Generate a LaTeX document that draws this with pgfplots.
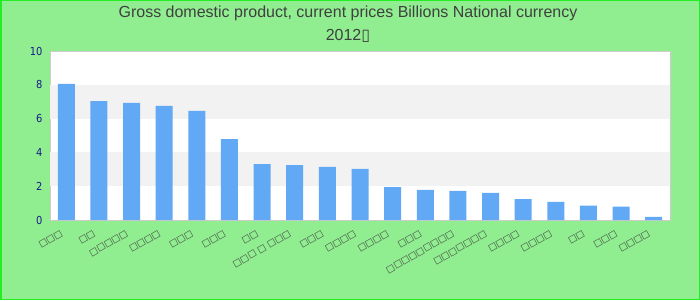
\documentclass[border=0pt]{standalone}
\usepackage{pgfplots}
\pgfplotsset{compat=1.18}
\usepackage{fontspec}
\setmainfont{Liberation Sans}
\newfontfamily\dejavu{DejaVu Sans}
\newfontfamily\dejavucond{DejaVu Sans Condensed}
\definecolor{bg}{HTML}{90EE90}
\definecolor{framec}{HTML}{22EE22}
\definecolor{barc}{HTML}{61A9F5}
\definecolor{band}{HTML}{F2F2F2}
\definecolor{ticknum}{HTML}{1A1A8C}
\definecolor{titlec}{HTML}{404040}
\definecolor{axisc}{HTML}{CCCCCC}
\begin{document}
\begin{tikzpicture}[x=1pt,y=1pt]
\fill[bg] (0,0) rectangle (700,300);
\draw[framec, line width=1.5pt] (0.75,0.75) rectangle (699.25,299.25);
\node[text=titlec, font=\fontsize{16}{18}\selectfont] at (348,287) {Gross domestic product, current prices Billions National currency};
\node[text=titlec, font=\fontsize{16}{18}\selectfont] at (348,264) {2012{\dejavu ▯}};
\begin{axis}[
  at={(50pt,80pt)}, anchor=south west,
  scale only axis, width=620pt, height=169pt,
  xmin=-0.5, xmax=18.5, ymin=0, ymax=10,
  ytick={0,2,4,6,8,10},
  xtick={0,...,18},
  xticklabels={□□□,□□,□□□□□,□□□□,□□□,□□□,□□,□□□ □ □□□,□□□,□□□□,□□□□,□□□,□□□□□□□□□,□□□□□□□,□□□□,□□□□,□□,□□□,□□□□},
  major tick length=0pt,
  axis background/.style={fill=white},
  axis line style={draw=axisc, line width=1pt},
  /pgf/number format/assume math mode=true,
  yticklabel style={font=\dejavucond\fontsize{11}{12}\selectfont, text=ticknum, xshift=-4pt},
  xticklabel style={font=\dejavu\fontsize{9}{10}\selectfont, text=titlec, xshift=-5pt, yshift=-5pt, rotate=30, anchor=north east},
  ybar, bar width=17pt,
  clip=false,
]
\fill[band] (axis cs:-0.5,2) rectangle (axis cs:18.5,4);
\fill[band] (axis cs:-0.5,6) rectangle (axis cs:18.5,8);
\addplot[fill=barc, draw=none] coordinates {
(0,8.05) (1,7.04) (2,6.93) (3,6.75) (4,6.45) (5,4.79) (6,3.31) (7,3.25) (8,3.14) (9,3.02)
(10,1.95) (11,1.78) (12,1.72) (13,1.60) (14,1.24) (15,1.07) (16,0.85) (17,0.79) (18,0.18)
};
\end{axis}
\pgfresetboundingbox
\path[use as bounding box] (0,0) rectangle (700,300);
\end{tikzpicture}
\end{document}
